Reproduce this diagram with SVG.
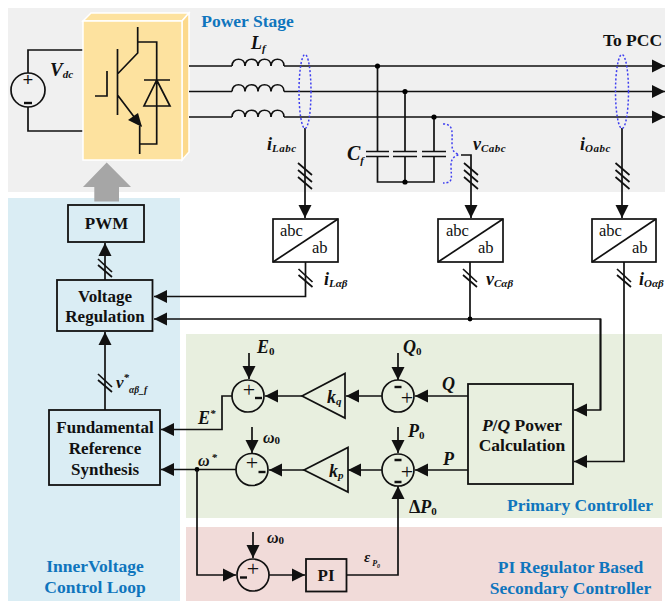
<svg xmlns="http://www.w3.org/2000/svg" width="665" height="602" viewBox="0 0 665 602">
<style>
text{font-family:"Liberation Serif","Times New Roman",serif;fill:#111;font-weight:bold}
.t{font-size:17px;text-anchor:middle}
.h{font-size:17.500px;fill:#0f75bd;text-anchor:middle}
.i{font-style:italic;font-size:18px}
.s{font-size:11px}
.u{font-style:normal;font-size:11px}
.n{font-weight:normal;font-size:16.500px}
.p{font-weight:normal;font-size:22px;text-anchor:middle}
.l{fill:none;stroke:#111;stroke-width:1.7}
.b{fill:none;stroke:#111;stroke-width:1.8}
.m{fill:none;stroke:#111;stroke-width:2.4}
.d{fill:none;stroke:#3f3ff0;stroke-width:1.5;stroke-dasharray:2 2}
.o{fill:none;stroke:#111;stroke-width:1.7}
</style>
<defs>
<marker id="a" markerUnits="userSpaceOnUse" markerWidth="14" markerHeight="14" refX="13" refY="7" orient="auto"><path d="M0 0.5L13 7L0 13.500Z" fill="#111"/></marker>
<g id="sl"><path d="M-7-13L7-1M-7-6L7 6M-7 1L7 13" class="l"/></g>
<g id="sl2"><path d="M-7-9L7 4M-7-3L7 9" class="l"/></g>
<path id="coil" d="M0 0c0-9 13-9 13 0c0-9 13-9 13 0c0-9 13-9 13 0c0-9 13-9 13 0" class="l"/>
</defs>
<rect x="8" y="8" width="657" height="184" fill="#f0f0f0"/>
<rect x="8" y="198" width="172" height="403" fill="#daedf4"/>
<rect x="186" y="334" width="476" height="184" fill="#e8efdf"/>
<rect x="186" y="527" width="476" height="74" fill="#f1dbd9"/>

<g id="vsource"><circle cx="28" cy="90" r="17" class="o"/><path d="M28 73V50H83M28 107V131H83" class="l"/><text x="28" y="86" font-size="19" text-anchor="middle">+</text><path d="M24 103H32" class="m"/></g>
<text x="50" y="76" class="i" style="font-size:19px">V<tspan class="s" dy="2">dc</tspan></text>

<g id="inverter">
<path d="M83 21L91 13H189L182 21Z" fill="#fde29f" stroke="#fff" stroke-width="1.500"/><path d="M182 21L189 13V152L182 160Z" fill="#fcd98c" stroke="#fff" stroke-width="1.500"/>
<rect x="83" y="21" width="99" height="139" fill="#fde29f" stroke="#fff" stroke-width="1.500"/>
<path d="M137.700 27V53L117.500 74M117.500 49V115M117.500 95L141 126M139.700 126V154M137.700 42H156.700V144H139.700M95 96H107V71M144 80H170M156.700 80L144 106H170Z" class="l"/>
<path d="M128 120L142 127L138 113Z" fill="#111"/>
</g>
<text x="247.500" y="27" class="h">Power Stage</text>
<path id="gray-arrow" d="M106.700 162.500L131 187H119V201.500H94.300V187H83Z" fill="#a6a6a6"/>

<g id="connectors">
<path d="M189 66H232" class="l"/><path d="M189 91.500H232" class="l"/><path d="M189 117H232" class="l"/>
<path d="M284 66H665" class="l" marker-end="url(#a)"/><path d="M284 91.500H665" class="l" marker-end="url(#a)"/><path d="M284 117H665" class="l" marker-end="url(#a)"/>
<use href="#coil" x="232" y="66"/><use href="#coil" x="232" y="91.500"/><use href="#coil" x="232" y="117"/>
<path d="M377.500 66V151.500M377.500 156.500V182H434V156.500M405 91.500V151.500M405 156.500V182M434 117V151.500" class="l"/>
<path d="M366 151.500H389M366 156.500H389M393 151.500H417M393 156.500H417M422 151.500H446M422 156.500H446" class="l"/>
<circle cx="377.500" cy="66" r="2.600"/><circle cx="405" cy="91.500" r="2.600"/><circle cx="434" cy="117" r="2.600"/><circle cx="405" cy="182" r="2.600"/>
<path d="M305 128V218" class="l" marker-end="url(#a)"/>
<path d="M461 155H471V218" class="l" marker-end="url(#a)"/>
<path d="M622 128V218" class="l" marker-end="url(#a)"/>
<ellipse cx="305" cy="91.500" rx="6" ry="37" class="d"/><ellipse cx="622" cy="91.500" rx="6.500" ry="37" class="d"/>
<path d="M443 124C454 124 452 132 452 145C452 151 455 153 459 154.500C455 156 451 158 451 165C451 178 454 183 443 183" class="d"/>
<use href="#sl" x="305" y="176"/><use href="#sl" x="471" y="176"/><use href="#sl" x="622.500" y="176"/>
<path d="M305.500 262V296.500H154" class="l" marker-end="url(#a)"/>
<path d="M470 262V319" class="l"/>
<path d="M600.500 410V319H154" class="l" marker-end="url(#a)"/>
<path d="M600.500 319V410H574" class="l" marker-end="url(#a)"/>
<path d="M624 262V461.500H574" class="l" marker-end="url(#a)"/>
<circle cx="470" cy="319" r="2.400"/>
<use href="#sl2" x="305.500" y="278"/><use href="#sl2" x="470" y="278"/><use href="#sl2" x="624" y="278"/>
<path d="M105 280V243" class="l" marker-end="url(#a)"/><use href="#sl2" x="105" y="268"/>
<path d="M105 410V332" class="l" marker-end="url(#a)"/><use href="#sl2" x="105" y="383"/>
<path d="M468 396H415" class="l" marker-end="url(#a)"/>
<path d="M468 470H415" class="l" marker-end="url(#a)"/>
<path d="M382 396H346" class="l" marker-end="url(#a)"/>
<path d="M382 470H348" class="l" marker-end="url(#a)"/>
<path d="M302 396H265" class="l" marker-end="url(#a)"/>
<path d="M304 470H269" class="l" marker-end="url(#a)"/>
<path d="M232 396H222V429.500H161" class="l" marker-end="url(#a)"/>
<path d="M236 469.500H161" class="l" marker-end="url(#a)"/>
<circle cx="197" cy="469.500" r="2.400"/>
<path d="M197 470V575H236" class="l" marker-end="url(#a)"/>
<path d="M269 575H305" class="l" marker-end="url(#a)"/>
<path d="M347 575H398V486" class="l" marker-end="url(#a)"/>
<path d="M398 353V380" class="l" marker-end="url(#a)"/>
<path d="M398 427V453" class="l" marker-end="url(#a)"/>
<path d="M249 353V379" class="l" marker-end="url(#a)"/>
<path d="M252 427V453" class="l" marker-end="url(#a)"/>
<path d="M253 532V558" class="l" marker-end="url(#a)"/>
</g>

<g id="pwm"><rect x="68" y="205" width="76" height="37" class="b"/><text x="106.500" y="229" class="t">PWM</text></g>
<g id="vreg"><rect x="57" y="280" width="95.500" height="51" class="b"/><text x="105" y="302" class="t">Voltage</text><text x="105" y="322" class="t">Regulation</text></g>
<g id="frs"><rect x="49" y="410" width="111" height="75" class="b"/><text x="105" y="433" class="t">Fundamental</text><text x="105" y="454" class="t">Reference</text><text x="105" y="475" class="t">Synthesis</text></g>

<g id="abc1"><rect x="273" y="219" width="65" height="43" class="l"/><path d="M273 262L338 219" class="l"/><text x="280" y="236" class="n">abc</text><text x="312" y="253" class="n">ab</text></g>
<g id="abc2"><rect x="438" y="219" width="65" height="43" class="l"/><path d="M438 262L503 219" class="l"/><text x="446" y="236" class="n">abc</text><text x="478" y="253" class="n">ab</text></g>
<g id="abc3"><rect x="592" y="219" width="64" height="43" class="l"/><path d="M592 262L656 219" class="l"/><text x="599" y="236" class="n">abc</text><text x="632" y="253" class="n">ab</text></g>

<g id="pq"><rect x="468" y="384" width="105" height="100" class="b"/><text x="522" y="431" class="t" style="font-size:17.500px"><tspan font-style="italic">P</tspan>/<tspan font-style="italic">Q</tspan> Power</text><text x="522" y="451" class="t" style="font-size:17.500px">Calculation</text></g>
<g id="kq"><path d="M302 396L345 373.500V418Z" class="l"/><text x="327" y="403" class="i">k<tspan class="s" dy="2">q</tspan></text></g>
<g id="kp"><path d="M304 470L348 447.500V492Z" class="l"/><text x="329" y="477" class="i">k<tspan class="s" dy="2">p</tspan></text></g>
<g id="s1"><circle cx="248" cy="396" r="16" class="o"/><text x="249" y="397" class="p">+</text><path d="M255 398H262" class="m"/></g>
<g id="s2"><circle cx="252" cy="469.500" r="16" class="o"/><text x="252" y="470" class="p">+</text><path d="M258.500 472H265.500" class="m"/></g>
<g id="s3"><circle cx="398" cy="396" r="16" class="o"/><text x="407" y="405" class="p">+</text><path d="M394.500 387H401.500" class="m"/></g>
<g id="s4"><circle cx="398" cy="470" r="16" class="o"/><text x="407" y="479" class="p">+</text><path d="M394.500 460H401.500M394.500 482H401.500" class="m"/></g>
<g id="s5"><circle cx="253" cy="575" r="16" class="o"/><text x="253" y="576" class="p">+</text><path d="M240 577.500H247" class="m"/></g>
<g id="pi"><rect x="306" y="559" width="40.500" height="32.500" class="b"/><text x="326" y="581" class="t">PI</text></g>

<text x="251" y="49" class="i">L<tspan class="s" dy="3">f</tspan></text>
<text x="267" y="150" class="i">i<tspan class="s" dy="2" letter-spacing="0.500">Labc</tspan></text>
<text x="347" y="160" class="i" style="font-size:20px">C<tspan class="s" dy="4">f</tspan></text>
<text x="473" y="150" class="i">v<tspan class="s" dy="2" letter-spacing="0.500">Cabc</tspan></text>
<text x="580" y="150" class="i">i<tspan class="s" dy="2" letter-spacing="0.500">Oabc</tspan></text>
<text x="632.500" y="46" class="t" style="font-size:17.500px">To PCC</text>
<text x="324" y="285" class="i">i<tspan class="s" dy="2">Lαβ</tspan></text>
<text x="486" y="285" class="i">v<tspan class="s" dy="2">Cαβ</tspan></text>
<text x="639" y="285" class="i">i<tspan class="s" dy="2">Oαβ</tspan></text>
<text x="116" y="388" class="i" style="font-size:17px">v<tspan class="s" dy="-7">*</tspan><tspan dy="12" style="font-size:9.500px">αβ_f</tspan></text>
<text x="257" y="353" class="i">E<tspan class="u" dy="2">0</tspan></text>
<text x="403" y="353" class="i">Q<tspan class="u" dy="2">0</tspan></text>
<text x="442" y="390" class="i">Q</text>
<text x="443" y="465" class="i">P</text>
<text x="198" y="424" class="i">E<tspan class="s" dy="-7">*</tspan></text>
<text x="198" y="466" class="i" style="font-size:16px">ω<tspan class="s" dy="-5" dx="2">*</tspan></text>
<text x="263" y="443" class="i" style="font-size:16px">ω<tspan class="u" dy="1">0</tspan></text>
<text x="267" y="543" class="i" style="font-size:16px">ω<tspan class="u" dy="1">0</tspan></text>
<text x="408" y="437" class="i">P<tspan class="u" dy="2">0</tspan></text>
<text x="409" y="513" font-size="18">Δ<tspan font-style="italic">P</tspan><tspan class="s" dy="2">0</tspan></text>
<text x="364" y="562" class="i" style="font-size:15px">ε<tspan font-size="8" dy="4" dx="2">P</tspan><tspan font-size="6" dy="2">0</tspan></text>
<text x="580" y="511" class="h">Primary Controller</text>
<text x="570.500" y="573" class="h">PI Regulator Based</text>
<text x="570.500" y="594" class="h">Secondary Controller</text>
<text x="95" y="572" class="h">InnerVoltage</text>
<text x="95" y="593" class="h">Control Loop</text>
</svg>
